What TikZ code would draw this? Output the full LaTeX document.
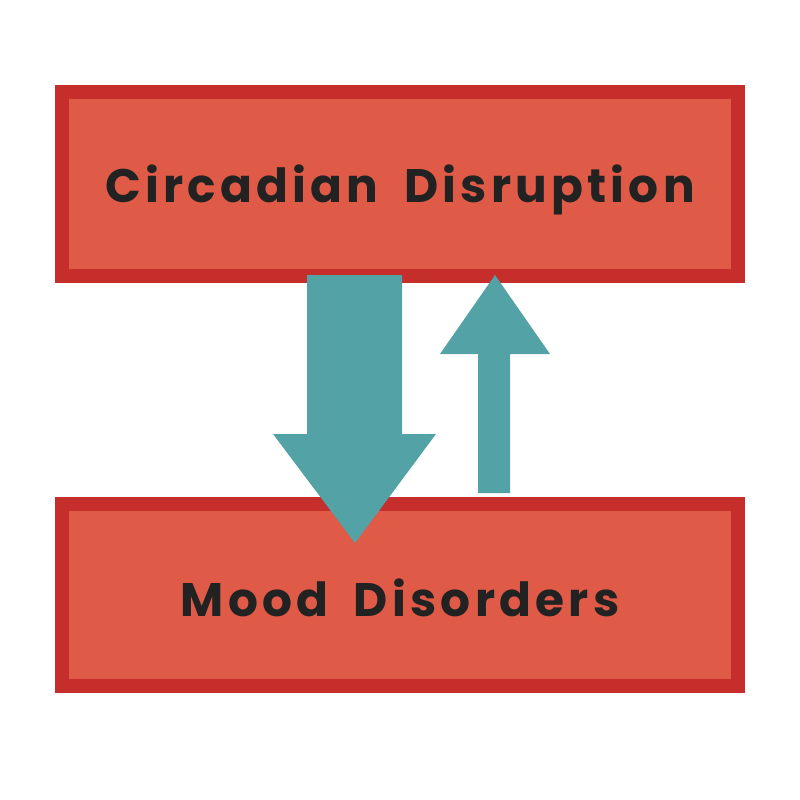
\documentclass[tikz,border=0pt]{standalone}
\usepackage{fontspec}
\setmainfont{Poppins}[LetterSpace=9,WordSpace=1.8]
\definecolor{boxline}{HTML}{C52E2B}
\definecolor{boxfill}{HTML}{DF5A47}
\definecolor{arrowteal}{HTML}{53A2A5}
\definecolor{labeltext}{HTML}{222222}

\begin{document}
\begin{tikzpicture}[x=1pt,y=-1pt,box/.style={draw=boxline,fill=boxfill,line width=14pt,minimum width=676pt,text=labeltext,font=\fontsize{47}{52}\selectfont\bfseries,text depth=0pt}]
    \useasboundingbox (0,0) rectangle (800,800);

    \node[box,minimum height=184pt,text height=36pt] (circ) at (400,184) {Circadian Disruption};
    \node[box,minimum height=182pt,text height=42pt] (mood) at (400,595) {Mood Disorders};

    % arrows between the two boxes
    \fill[arrowteal] (307,275) -- (402,275) -- (402,434) -- (436,434) -- (355,543) -- (273,434) -- (307,434) -- cycle;
    \fill[arrowteal] (495,275) -- (550,354) -- (510,354) -- (510,493) -- (478,493) -- (478,354) -- (440,354) -- cycle;
\end{tikzpicture}
\end{document}
